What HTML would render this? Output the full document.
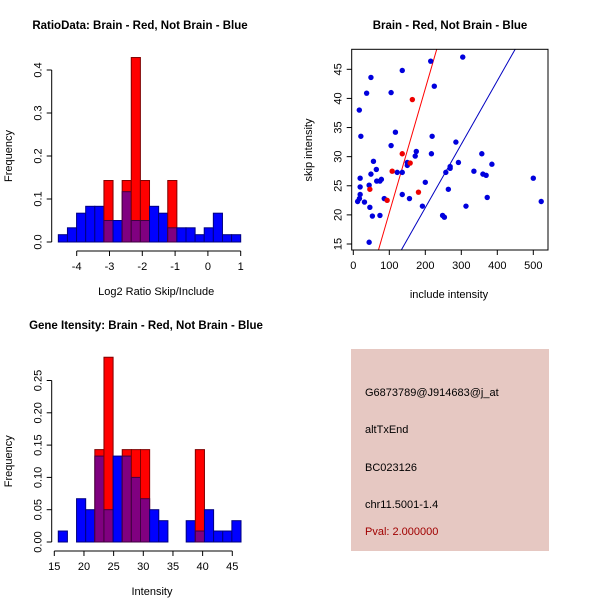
<!DOCTYPE html>
<html><head><meta charset="utf-8"><style>
body{margin:0;background:#fff}
svg{display:block;font-family:"Liberation Sans",sans-serif}
</style></head><body>
<svg id="c" width="600" height="600" xmlns="http://www.w3.org/2000/svg">
<text x="140" y="29" text-anchor="middle" font-size="11.5" font-weight="bold">RatioData: Brain - Red, Not Brain - Blue</text>
<text x="450" y="29" text-anchor="middle" font-size="11.5" font-weight="bold">Brain - Red, Not Brain - Blue</text>
<text x="146" y="329" text-anchor="middle" font-size="11.5" font-weight="bold">Gene Itensity: Brain - Red, Not Brain - Blue</text>
<g>
<rect x="351" y="349" width="198" height="202" fill="#e6c8c2"/>
<text x="365" y="396" font-size="11">G6873789@J914683@j_at</text>
<text x="365" y="433" font-size="11">altTxEnd</text>
<text x="365" y="471" font-size="11">BC023126</text>
<text x="365" y="508" font-size="11">chr11.5001-1.4</text>
<text x="365" y="535" font-size="11" fill="#a00000">Pval: 2.000000</text>
</g>
</svg>
<script>
// Ratio histogram data
const ratioStart=-4.56, ratioWidth=0.278;
const ratioBlue=[0.017,0.033,0.067,0.083,0.083,0.05,0.05,0.117,0.05,0.05,0.083,0.067,0.033,0.033,0.033,0.017,0.033,0.067,0.017,0.017];
const ratioRed=[0,0,0,0,0,0.143,0,0.143,0.429,0.143,0,0,0.143,0,0,0,0,0,0,0];
const ratioXTicks=[-4,-3,-2,-1,0,1];
const ratioYTicks=["0.0","0.1","0.2","0.3","0.4"];
// Intensity histogram data
const intStart=15.67, intWidth=1.54;
const intBlue=[0.017,0,0.067,0.05,0.133,0.05,0.133,0.133,0.1,0.067,0.05,0.033,0,0,0.033,0.017,0.05,0.017,0.017,0.033];
const intRed=[0,0,0,0,0.143,0.286,0,0.143,0.143,0.143,0,0,0,0,0,0.143,0,0,0,0];
const intXTicks=[15,20,25,30,35,40,45];
const intYTicks=["0.00","0.05","0.10","0.15","0.20","0.25"];
// Scatter data
const blueX=[16.7,21,37,49,136,215,304,225,105,117,105,219,217,285,175,172,150,150,56,64,49,19,65,74,78,122,136,19,44,19,17,12,31,46,53,74,86,136,156,192,200,44,292,257,269,269,264,248,253,313,335,357,360,369,372,385,500,522];
const blueY=[38.0,33.5,40.9,43.6,44.8,46.4,47.1,42.1,41.0,34.2,31.9,33.5,30.5,32.5,30.9,30.1,29.0,28.5,29.2,27.8,27.0,26.3,25.8,25.8,26.1,27.3,27.3,24.8,25.1,23.5,22.8,22.3,22.2,21.3,19.8,19.9,22.8,23.5,22.8,21.5,25.6,15.3,29.0,27.3,28.0,28.3,24.4,19.9,19.6,21.5,27.5,30.5,27.0,26.8,23.0,28.7,26.3,22.3];
const redX=[164,136,158,108,46,94,181];
const redY=[39.8,30.5,28.9,27.5,24.4,22.5,23.9];
const redLine=[-0.92,0.213];
const blueLine=[-0.57,0.109];
const scXTicks=[0,100,200,300,400,500];
const scYTicks=[15,20,25,30,35,40,45];

const svg=document.getElementById('c');
const NS='http://www.w3.org/2000/svg';
function mk(tag,attrs,parent){const e=document.createElementNS(NS,tag);for(const k in attrs)e.setAttribute(k,attrs[k]);(parent||svg).appendChild(e);return e;}
function txt(x,y,s,attrs){const e=mk('text',Object.assign({x:x,y:y,'font-size':11},attrs||{}));e.textContent=s;return e;}

function hist(o){
  const g=mk('g',{});
  
  
  const sx=v=>o.x0+(v-o.xv0)*o.xs, sy=v=>o.y0-v*o.ys;
  o.blue.forEach((b,i)=>{
    const r=o.red[i]; const x1=sx(o.start+i*o.w), x2=sx(o.start+(i+1)*o.w);
    const lo=Math.min(b,r), hi=Math.max(b,r);
    if(hi>0){const c=r>b?'#ff0000':'#0000ff';
      const e=mk('rect',{x:x1,y:sy(hi),width:x2-x1,height:sy(0)-sy(hi),fill:c,stroke:r>b?'#800000':'#000080','stroke-width':1},g);
      
      }
    if(lo>0){const e=mk('rect',{x:x1,y:sy(lo),width:x2-x1,height:sy(0)-sy(lo),fill:'#800080',stroke:'#400040','stroke-width':1},g);
      
      }
  });
  const yt=o.yticks.map(Number);
  mk('line',{x1:o.ax,x2:o.ax,y1:sy(yt[0]),y2:sy(yt[yt.length-1]),stroke:'#000'},g);
  o.yticks.forEach(t=>{const y=sy(Number(t));mk('line',{x1:o.ax-5,x2:o.ax,y1:y,y2:y,stroke:'#000'},g);
    const e=txt(o.ax-10,y,t,{transform:`rotate(-90 ${o.ax-10} ${y})`,'text-anchor':'middle'});g.appendChild(e);});
  mk('line',{x1:sx(o.xticks[0]),x2:sx(o.xticks[o.xticks.length-1]),y1:o.ay,y2:o.ay,stroke:'#000'},g);
  o.xticks.forEach(t=>{const x=sx(t);mk('line',{x1:x,x2:x,y1:o.ay,y2:o.ay+5,stroke:'#000'},g);
    g.appendChild(txt(x,o.ay+19,String(t),{'text-anchor':'middle'}));});
  g.appendChild(txt((o.ax+sx(o.xticks[o.xticks.length-1]))/2+10,o.ay+44,o.xlab,{'text-anchor':'middle'}));
  const yl=txt(12,(sy(0)+sy(yt[yt.length-1]))/2,'Frequency',{transform:`rotate(-90 12 ${(sy(0)+sy(yt[yt.length-1]))/2})`,'text-anchor':'middle'});g.appendChild(yl);
}
hist({name:'ratio-histogram',blue:ratioBlue,red:ratioRed,start:ratioStart,w:ratioWidth,x0:76.7,xv0:-4,xs:32.8,y0:242,ys:430,ax:51.7,ay:251,xticks:ratioXTicks,yticks:ratioYTicks,xlab:'Log2 Ratio Skip/Include'});
hist({name:'intensity-histogram',blue:intBlue,red:intRed,start:intStart,w:intWidth,x0:54.3,xv0:15,xs:5.933,y0:542,ys:646,ax:51.7,ay:551,xticks:intXTicks,yticks:intYTicks,xlab:'Intensity'});

(function(){
  const g=mk('g',{});
  
  
  const L=351.7,R=548,T=49.3,B=250;
  const sx=v=>353.3+v*0.36, sy=v=>244-(v-15)*5.823;
  const cp=mk('clipPath',{id:'scclip'},g);mk('rect',{x:L,y:T,width:R-L,height:B-T},cp);
  [[redLine,'#ff0000','red-fit-line'],[blueLine,'#0000c0','blue-fit-line']].forEach(([ln,c,n])=>{
    const e=mk('line',{x1:sx(-50),y1:sy(ln[0]+ln[1]*-50),x2:sx(600),y2:sy(ln[0]+ln[1]*600),stroke:c,'clip-path':'url(#scclip)'},g);
    
    });
  blueX.forEach((x,i)=>{const e=mk('circle',{cx:sx(x),cy:sy(blueY[i]),r:2.7,fill:'#0000dd'},g);
    
    });
  redX.forEach((x,i)=>{const e=mk('circle',{cx:sx(x),cy:sy(redY[i]),r:2.7,fill:'#ee0000'},g);
    
    });
  mk('rect',{x:L,y:T,width:R-L,height:B-T,fill:'none',stroke:'#000'},g);
  scXTicks.forEach(t=>{const x=sx(t);mk('line',{x1:x,x2:x,y1:B,y2:B+5,stroke:'#000'},g);g.appendChild(txt(x,B+19,String(t),{'text-anchor':'middle'}));});
  scYTicks.forEach(t=>{const y=sy(t);mk('line',{x1:L-5,x2:L,y1:y,y2:y,stroke:'#000'},g);g.appendChild(txt(L-10,y,String(t),{transform:`rotate(-90 ${L-10} ${y})`,'text-anchor':'middle'}));});
  g.appendChild(txt(449,298,'include intensity',{'text-anchor':'middle'}));
  g.appendChild(txt(312,150,'skip intensity',{'text-anchor':'middle',transform:'rotate(-90 312 150)'}));
})();
</script>
</body></html>
